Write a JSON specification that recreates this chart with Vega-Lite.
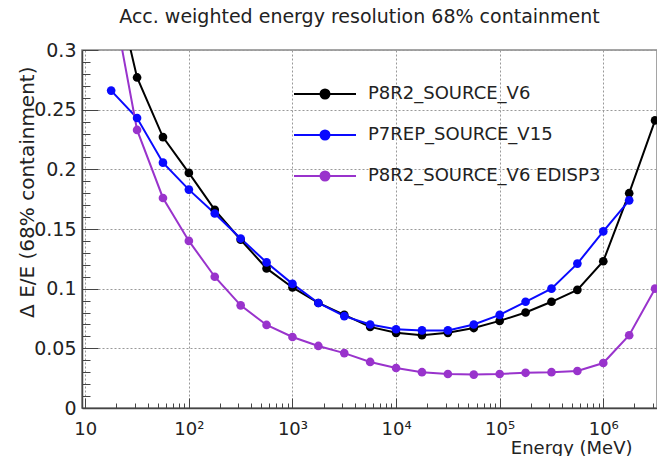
{
  "$schema": "https://vega.github.io/schema/vega-lite/v6.json",
  "width": 575,
  "height": 358,
  "autosize": {"type": "none"},
  "padding": {"left": 82, "top": 50, "right": 0, "bottom": 48},
  "background": "white",
  "title": {
    "text": "Acc. weighted energy resolution 68% containment",
    "font": "DejaVu Sans",
    "fontSize": 19,
    "fontWeight": "normal",
    "color": "#222222",
    "anchor": "middle",
    "dx": -10,
    "offset": 14
  },
  "config": {
    "view": {"stroke": "#888888", "strokeWidth": 1.5},
    "axis": {
      "labelFont": "DejaVu Sans",
      "titleFont": "DejaVu Sans",
      "labelColor": "#222222",
      "titleColor": "#222222",
      "domainColor": "#444444",
      "tickColor": "#444444",
      "titleFontWeight": "normal"
    }
  },
  "data": {
    "values": [
      {"series": "P8R2_SOURCE_V6", "energy": 17.78, "res": 0.37},
      {"series": "P8R2_SOURCE_V6", "energy": 31.62, "res": 0.277},
      {"series": "P8R2_SOURCE_V6", "energy": 56.23, "res": 0.227},
      {"series": "P8R2_SOURCE_V6", "energy": 100, "res": 0.197},
      {"series": "P8R2_SOURCE_V6", "energy": 177.8, "res": 0.166},
      {"series": "P8R2_SOURCE_V6", "energy": 316.2, "res": 0.141},
      {"series": "P8R2_SOURCE_V6", "energy": 562.3, "res": 0.117},
      {"series": "P8R2_SOURCE_V6", "energy": 1000, "res": 0.101},
      {"series": "P8R2_SOURCE_V6", "energy": 1778, "res": 0.088},
      {"series": "P8R2_SOURCE_V6", "energy": 3162, "res": 0.078},
      {"series": "P8R2_SOURCE_V6", "energy": 5623, "res": 0.068},
      {"series": "P8R2_SOURCE_V6", "energy": 10000, "res": 0.063},
      {"series": "P8R2_SOURCE_V6", "energy": 17783, "res": 0.061},
      {"series": "P8R2_SOURCE_V6", "energy": 31623, "res": 0.063},
      {"series": "P8R2_SOURCE_V6", "energy": 56234, "res": 0.067},
      {"series": "P8R2_SOURCE_V6", "energy": 100000, "res": 0.073},
      {"series": "P8R2_SOURCE_V6", "energy": 177828, "res": 0.080},
      {"series": "P8R2_SOURCE_V6", "energy": 316228, "res": 0.089},
      {"series": "P8R2_SOURCE_V6", "energy": 562341, "res": 0.099},
      {"series": "P8R2_SOURCE_V6", "energy": 1000000, "res": 0.123},
      {"series": "P8R2_SOURCE_V6", "energy": 1778279, "res": 0.180},
      {"series": "P8R2_SOURCE_V6", "energy": 3162278, "res": 0.241},
      {"series": "P7REP_SOURCE_V15", "energy": 17.78, "res": 0.266},
      {"series": "P7REP_SOURCE_V15", "energy": 31.62, "res": 0.243},
      {"series": "P7REP_SOURCE_V15", "energy": 56.23, "res": 0.2056},
      {"series": "P7REP_SOURCE_V15", "energy": 100, "res": 0.183},
      {"series": "P7REP_SOURCE_V15", "energy": 177.8, "res": 0.163},
      {"series": "P7REP_SOURCE_V15", "energy": 316.2, "res": 0.142},
      {"series": "P7REP_SOURCE_V15", "energy": 562.3, "res": 0.122},
      {"series": "P7REP_SOURCE_V15", "energy": 1000, "res": 0.104},
      {"series": "P7REP_SOURCE_V15", "energy": 1778, "res": 0.088},
      {"series": "P7REP_SOURCE_V15", "energy": 3162, "res": 0.077},
      {"series": "P7REP_SOURCE_V15", "energy": 5623, "res": 0.070},
      {"series": "P7REP_SOURCE_V15", "energy": 10000, "res": 0.066},
      {"series": "P7REP_SOURCE_V15", "energy": 17783, "res": 0.065},
      {"series": "P7REP_SOURCE_V15", "energy": 31623, "res": 0.065},
      {"series": "P7REP_SOURCE_V15", "energy": 56234, "res": 0.070},
      {"series": "P7REP_SOURCE_V15", "energy": 100000, "res": 0.078},
      {"series": "P7REP_SOURCE_V15", "energy": 177828, "res": 0.089},
      {"series": "P7REP_SOURCE_V15", "energy": 316228, "res": 0.100},
      {"series": "P7REP_SOURCE_V15", "energy": 562341, "res": 0.121},
      {"series": "P7REP_SOURCE_V15", "energy": 1000000, "res": 0.148},
      {"series": "P7REP_SOURCE_V15", "energy": 1778279, "res": 0.174},
      {"series": "P8R2_SOURCE_V6 EDISP3", "energy": 17.78, "res": 0.35},
      {"series": "P8R2_SOURCE_V6 EDISP3", "energy": 31.62, "res": 0.233},
      {"series": "P8R2_SOURCE_V6 EDISP3", "energy": 56.23, "res": 0.176},
      {"series": "P8R2_SOURCE_V6 EDISP3", "energy": 100, "res": 0.140},
      {"series": "P8R2_SOURCE_V6 EDISP3", "energy": 177.8, "res": 0.110},
      {"series": "P8R2_SOURCE_V6 EDISP3", "energy": 316.2, "res": 0.086},
      {"series": "P8R2_SOURCE_V6 EDISP3", "energy": 562.3, "res": 0.0696},
      {"series": "P8R2_SOURCE_V6 EDISP3", "energy": 1000, "res": 0.0595},
      {"series": "P8R2_SOURCE_V6 EDISP3", "energy": 1778, "res": 0.052},
      {"series": "P8R2_SOURCE_V6 EDISP3", "energy": 3162, "res": 0.046},
      {"series": "P8R2_SOURCE_V6 EDISP3", "energy": 5623, "res": 0.0386},
      {"series": "P8R2_SOURCE_V6 EDISP3", "energy": 10000, "res": 0.0335},
      {"series": "P8R2_SOURCE_V6 EDISP3", "energy": 17783, "res": 0.030},
      {"series": "P8R2_SOURCE_V6 EDISP3", "energy": 31623, "res": 0.0285},
      {"series": "P8R2_SOURCE_V6 EDISP3", "energy": 56234, "res": 0.028},
      {"series": "P8R2_SOURCE_V6 EDISP3", "energy": 100000, "res": 0.0285},
      {"series": "P8R2_SOURCE_V6 EDISP3", "energy": 177828, "res": 0.0295},
      {"series": "P8R2_SOURCE_V6 EDISP3", "energy": 316228, "res": 0.030},
      {"series": "P8R2_SOURCE_V6 EDISP3", "energy": 562341, "res": 0.031},
      {"series": "P8R2_SOURCE_V6 EDISP3", "energy": 1000000, "res": 0.0377},
      {"series": "P8R2_SOURCE_V6 EDISP3", "energy": 1778279, "res": 0.061},
      {"series": "P8R2_SOURCE_V6 EDISP3", "energy": 3162278, "res": 0.100}
    ]
  },
  "layer": [
    {
      "mark": {"type": "line", "clip": true, "strokeWidth": 2},
      "encoding": {
        "x": {
          "field": "energy",
          "type": "quantitative",
          "scale": {"type": "log", "domain": [9.3, 3300000], "nice": false},
          "axis": {
            "orient": "bottom",
            "values": [10, 100, 1000, 10000, 100000, 1000000],
            "labelExpr": "datum.value == 10 ? '10' : '10' + ['','','²','³','⁴','⁵','⁶'][round(log(datum.value)/LN10)]",
            "labelFontSize": 18,
            "labelPadding": 22,
            "labelFlush": false,
            "tickSize": -10,
            "grid": true,
            "gridDash": [2, 2],
            "gridColor": "#999999",
            "gridWidth": 1,
            "domainWidth": 1.5,
            "title": "Energy (MeV)",
            "titleFontSize": 18,
            "titleAlign": "right",
            "titleAnchor": "end",
            "titleBaseline": "middle",
            "titleX": 550,
            "titleY": 40
          }
        },
        "y": {
          "field": "res",
          "type": "quantitative",
          "scale": {"domain": [0, 0.3], "nice": false},
          "axis": {
            "orient": "left",
            "values": [0, 0.05, 0.1, 0.15, 0.2, 0.25, 0.3],
            "format": "~g",
            "labelFontSize": 19,
            "labelPadding": 22,
            "tickSize": -16,
            "grid": true,
            "gridDash": [2, 2],
            "gridColor": "#999999",
            "gridWidth": 1,
            "domainWidth": 1.5,
            "title": "Δ E/E (68% containment)",
            "titleFontSize": 20,
            "titleAngle": -90,
            "titleAlign": "right",
            "titleBaseline": "middle",
            "titleX": -55,
            "titleY": 16
          }
        },
        "color": {
          "field": "series",
          "type": "nominal",
          "scale": {
            "domain": ["P8R2_SOURCE_V6", "P7REP_SOURCE_V15", "P8R2_SOURCE_V6 EDISP3"],
            "range": ["#000000", "#0a0aff", "#9933cc"]
          },
          "legend": {
            "title": null,
            "orient": "none",
            "legendX": 211,
            "legendY": 12,
            "padding": 0,
            "symbolType": "M-1,0L1,0M0.145,0A0.145,0.145,0,1,1,-0.145,0A0.145,0.145,0,1,1,0.145,0Z",
            "symbolSize": 3844,
            "symbolStrokeWidth": 2,
            "labelFont": "DejaVu Sans",
            "labelFontSize": 18,
            "labelColor": "#222222",
            "labelOffset": 11,
            "labelLimit": 400,
            "rowPadding": 0,
            "encode": {
              "symbols": {
                "update": {
                  "fill": {"scale": "color", "field": "value"},
                  "stroke": {"scale": "color", "field": "value"}
                }
              }
            }
          }
        }
      }
    },
    {
      "mark": {"type": "point", "filled": true, "clip": true, "size": 75, "opacity": 1},
      "encoding": {
        "x": {
          "field": "energy",
          "type": "quantitative",
          "axis": {
            "orient": "bottom",
            "values": [20, 30, 40, 50, 60, 70, 80, 90, 200, 300, 400, 500, 600, 700, 800, 900, 2000, 3000, 4000, 5000, 6000, 7000, 8000, 9000, 20000, 30000, 40000, 50000, 60000, 70000, 80000, 90000, 200000, 300000, 400000, 500000, 600000, 700000, 800000, 900000, 2000000, 3000000],
            "labels": false,
            "grid": false,
            "domain": false,
            "tickSize": -5,
            "title": null
          }
        },
        "y": {
          "field": "res",
          "type": "quantitative",
          "axis": {
            "orient": "left",
            "values": [0.01, 0.02, 0.03, 0.04, 0.06, 0.07, 0.08, 0.09, 0.11, 0.12, 0.13, 0.14, 0.16, 0.17, 0.18, 0.19, 0.21, 0.22, 0.23, 0.24, 0.26, 0.27, 0.28, 0.29],
            "labels": false,
            "grid": false,
            "domain": false,
            "tickSize": -8,
            "title": null
          }
        },
        "color": {"field": "series", "type": "nominal", "legend": null}
      }
    }
  ],
  "resolve": {"axis": {"x": "independent", "y": "independent"}}
}
